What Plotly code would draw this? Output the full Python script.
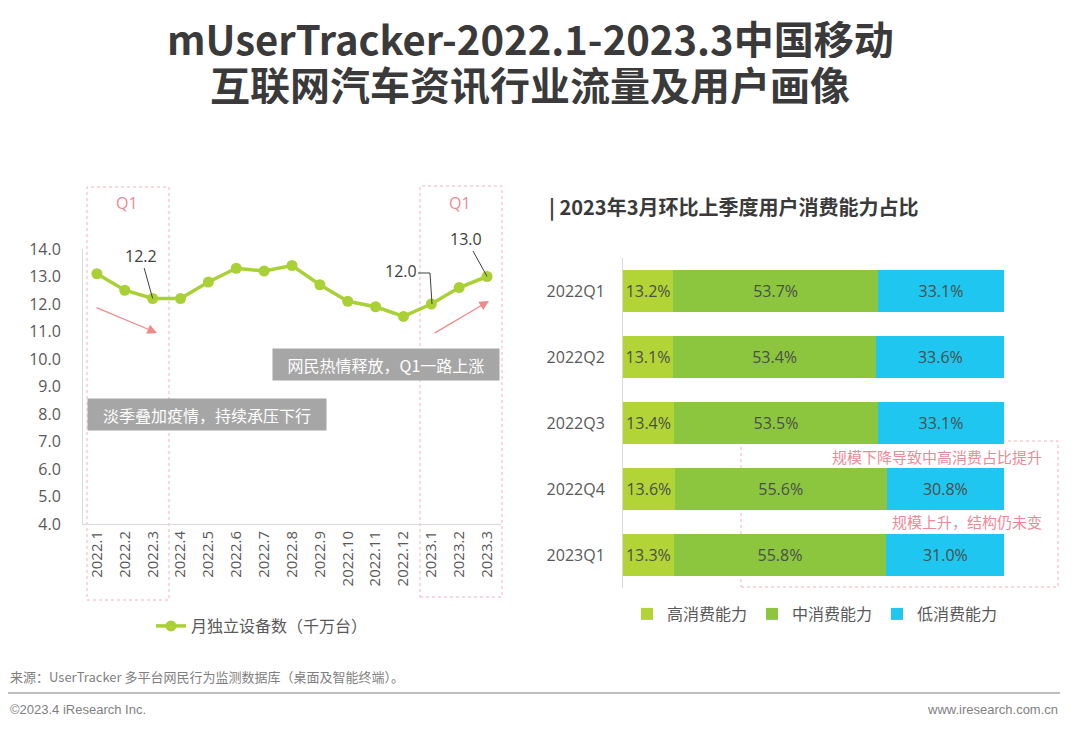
import plotly.graph_objects as go

# ---------------- data ----------------
months = ["2022.1", "2022.2", "2022.3", "2022.4", "2022.5", "2022.6", "2022.7", "2022.8",
          "2022.9", "2022.10", "2022.11", "2022.12", "2023.1", "2023.2", "2023.3"]
devices = [13.1, 12.5, 12.2, 12.2, 12.8, 13.3, 13.2, 13.4, 12.7, 12.1, 11.9, 11.55, 12.0, 12.6, 13.0]

quarters = ["2022Q1", "2022Q2", "2022Q3", "2022Q4", "2023Q1"]
high = [13.2, 13.1, 13.4, 13.6, 13.3]
mid = [53.7, 53.4, 53.5, 55.6, 55.8]
low = [33.1, 33.6, 33.1, 30.8, 31.0]

W, H = 1080, 729
OFF = 8  # page body margin
FONT = "Open Sans, Noto Sans CJK SC, sans-serif"
CJK = "Noto Sans CJK SC, sans-serif"
PINK = "#ee8a96"
GRAY_TXT = "#595959"


def px(x):
    return (x - OFF) / W


def py(y):
    return 1 - (y - OFF) / H


fig = go.Figure()

fig.add_trace(go.Scatter(
    x=months, y=devices, mode="lines+markers", name="月独立设备数（千万台）",
    line=dict(color="#a9d136", width=3.5), marker=dict(color="#a9d136", size=11),
    xaxis="x", yaxis="y", legend="legend", hoverinfo="skip"))

for name, vals, col in [("高消费能力", high, "#b3d436"),
                        ("中消费能力", mid, "#8cc63f"),
                        ("低消费能力", low, "#1ec6f0")]:
    fig.add_trace(go.Bar(
        x=vals, y=quarters, orientation="h", name=name,
        marker=dict(color=col, line=dict(width=0)),
        text=[f"{v:.1f}%" for v in vals], textposition="inside",
        insidetextanchor="middle", constraintext="none",
        textfont=dict(family=FONT, size=16, color="#4a4f4a"),
        xaxis="x2", yaxis="y2", legend="legend2", hoverinfo="skip"))

shapes = []
for (x0, y0, x1, y1) in [(87, 187, 169, 600), (420, 186, 502, 597), (741, 441, 1058, 587)]:
    shapes.append(dict(type="rect", xref="paper", yref="paper",
                       x0=px(x0), x1=px(x1), y0=py(y1), y1=py(y0),
                       line=dict(color="#f2b3bd", width=1, dash="dot"), layer="below"))
shapes.append(dict(type="path", xref="paper", yref="paper",
                   path=f"M {px(418)},{py(273)} L {px(430)},{py(273)} L {px(432)},{py(304)}",
                   line=dict(color="#404040", width=1)))
shapes.append(dict(type="line", xref="paper", yref="paper",
                   x0=px(8), x1=px(1060), y0=py(693), y1=py(693),
                   line=dict(color="#bfbfbf", width=2)))


def note(text, x, y, size, color, xanchor="center", weight="normal", family=CJK, **kw):
    d = dict(text=text, xref="paper", yref="paper", x=px(x), y=py(y), xanchor=xanchor,
             yanchor="middle", showarrow=False,
             font=dict(family=family, size=size, color=color, weight=weight))
    d.update(kw)
    return d


ann = []
ann.append(note("mUserTracker-2022.1-2023.3中国移动", 530, 38, 40, "#3a3a3a", weight="bold",
                height=40, borderpad=0))
ann.append(note("互联网汽车资讯行业流量及用户画像", 530, 84, 40, "#3a3a3a", weight="bold",
                height=40, borderpad=0))
ann.append(note("| 2023年3月环比上季度用户消费能力占比", 547, 206, 20, "#3a3a3a",
                xanchor="left", weight="bold"))
for xq in [127, 460]:
    ann.append(note("Q1", xq, 203, 16, PINK, family=FONT))
ann.append(note("网民热情释放，Q1一路上涨", 272, 364.5, 16, "white", xanchor="left",
                bgcolor="#a6a6a6", width=222, height=27, borderpad=2))
ann.append(note("淡季叠加疫情，持续承压下行", 87, 414.5, 16, "white", xanchor="left",
                bgcolor="#a6a6a6", width=234, height=27, borderpad=2))
# pink arrows
ann.append(dict(text="", xref="paper", yref="paper", x=px(157), y=py(333),
                ax=-62, ay=-26, showarrow=True, arrowhead=2, arrowsize=1.6,
                arrowwidth=1.2, arrowcolor="#f08a8a"))
ann.append(dict(text="", xref="paper", yref="paper", x=px(489), y=py(301),
                ax=-56, ay=33, showarrow=True, arrowhead=2, arrowsize=1.6,
                arrowwidth=1.2, arrowcolor="#f08a8a"))
# data labels (x as category serial numbers)
ann.append(dict(text="12.2", xref="x", yref="y", x=2, y=devices[2],
                ax=-12, ay=-43, showarrow=True, arrowhead=0, arrowwidth=1,
                arrowcolor="#404040", font=dict(family=FONT, size=16, color="#404040")))
ann.append(dict(text="13.0", xref="x", yref="y", x=14, y=devices[14],
                ax=-21, ay=-38, showarrow=True, arrowhead=0, arrowwidth=1,
                arrowcolor="#404040", font=dict(family=FONT, size=16, color="#404040")))
ann.append(dict(text="12.0", xref="x", yref="y", x=12, y=devices[12],
                xshift=-30, yshift=33, showarrow=False, yanchor="middle",
                font=dict(family=FONT, size=16, color="#404040")))
ann.append(note("规模下降导致中高消费占比提升", 1044, 456, 15, PINK, xanchor="right"))
ann.append(note("规模上升，结构仍未变", 1044, 521, 15, PINK, xanchor="right"))
ann.append(note("来源：UserTracker 多平台网民行为监测数据库（桌面及智能终端）。", 8, 676, 13,
                "#7f7f7f", xanchor="left",
                family="Liberation Sans Narrow, Noto Sans CJK SC, sans-serif"))
ann.append(note("©2023.4 iResearch Inc.", 8, 709, 13, "#7f7f7f", xanchor="left",
                family="Liberation Sans Narrow, sans-serif"))
ann.append(note("www.iresearch.com.cn", 1060, 709, 13, "#7f7f7f", xanchor="right",
                family="Liberation Sans Narrow, sans-serif"))

fig.update_layout(
    template="none",
    width=W, height=H, margin=dict(l=0, r=0, t=0, b=0, pad=0, autoexpand=False),
    paper_bgcolor="white", plot_bgcolor="white",
    font=dict(family=FONT, color=GRAY_TXT),
    barmode="stack", bargap=0.36,
    showlegend=True,
    xaxis=dict(domain=[px(83), px(501)], type="category", range=[-0.5, 14.5],
               tickangle=-90, automargin=False,
               showline=True, linecolor="#d9d9d9", linewidth=1, showgrid=False,
               ticks="", tickfont=dict(size=15, color=GRAY_TXT), anchor="y",
               fixedrange=True),
    yaxis=dict(domain=[py(524), py(249)], range=[4, 14], dtick=1, tickformat=".1f",
               automargin=False,
               showline=True, linecolor="#d9d9d9", linewidth=1, showgrid=False,
               zeroline=False, ticks="", ticklabelstandoff=18,
               tickfont=dict(size=16, color=GRAY_TXT), anchor="x", fixedrange=True),
    xaxis2=dict(domain=[px(623), px(1004)], range=[0, 100], visible=False,
                automargin=False, anchor="y2", fixedrange=True, showgrid=False,
                zeroline=False),
    yaxis2=dict(domain=[py(588), py(258)], type="category", autorange="reversed",
                automargin=False,
                showline=True, linecolor="#d9d9d9", linewidth=1, showgrid=False,
                zeroline=False,
                ticks="", ticklabelstandoff=14, tickfont=dict(size=16, color=GRAY_TXT),
                anchor="x2", fixedrange=True),
    legend=dict(orientation="h", x=px(262), y=py(626), xanchor="center", yanchor="middle",
                font=dict(family=CJK, size=16, color=GRAY_TXT), itemwidth=30,
                bgcolor="rgba(0,0,0,0)", borderwidth=0),
    legend2=dict(orientation="h", x=px(815), y=py(614), xanchor="center", yanchor="middle",
                 font=dict(family=CJK, size=16, color=GRAY_TXT), itemwidth=30,
                 traceorder="normal", bgcolor="rgba(0,0,0,0)", borderwidth=0),
    shapes=shapes, annotations=ann,
)

fig.write_html("out.html")
